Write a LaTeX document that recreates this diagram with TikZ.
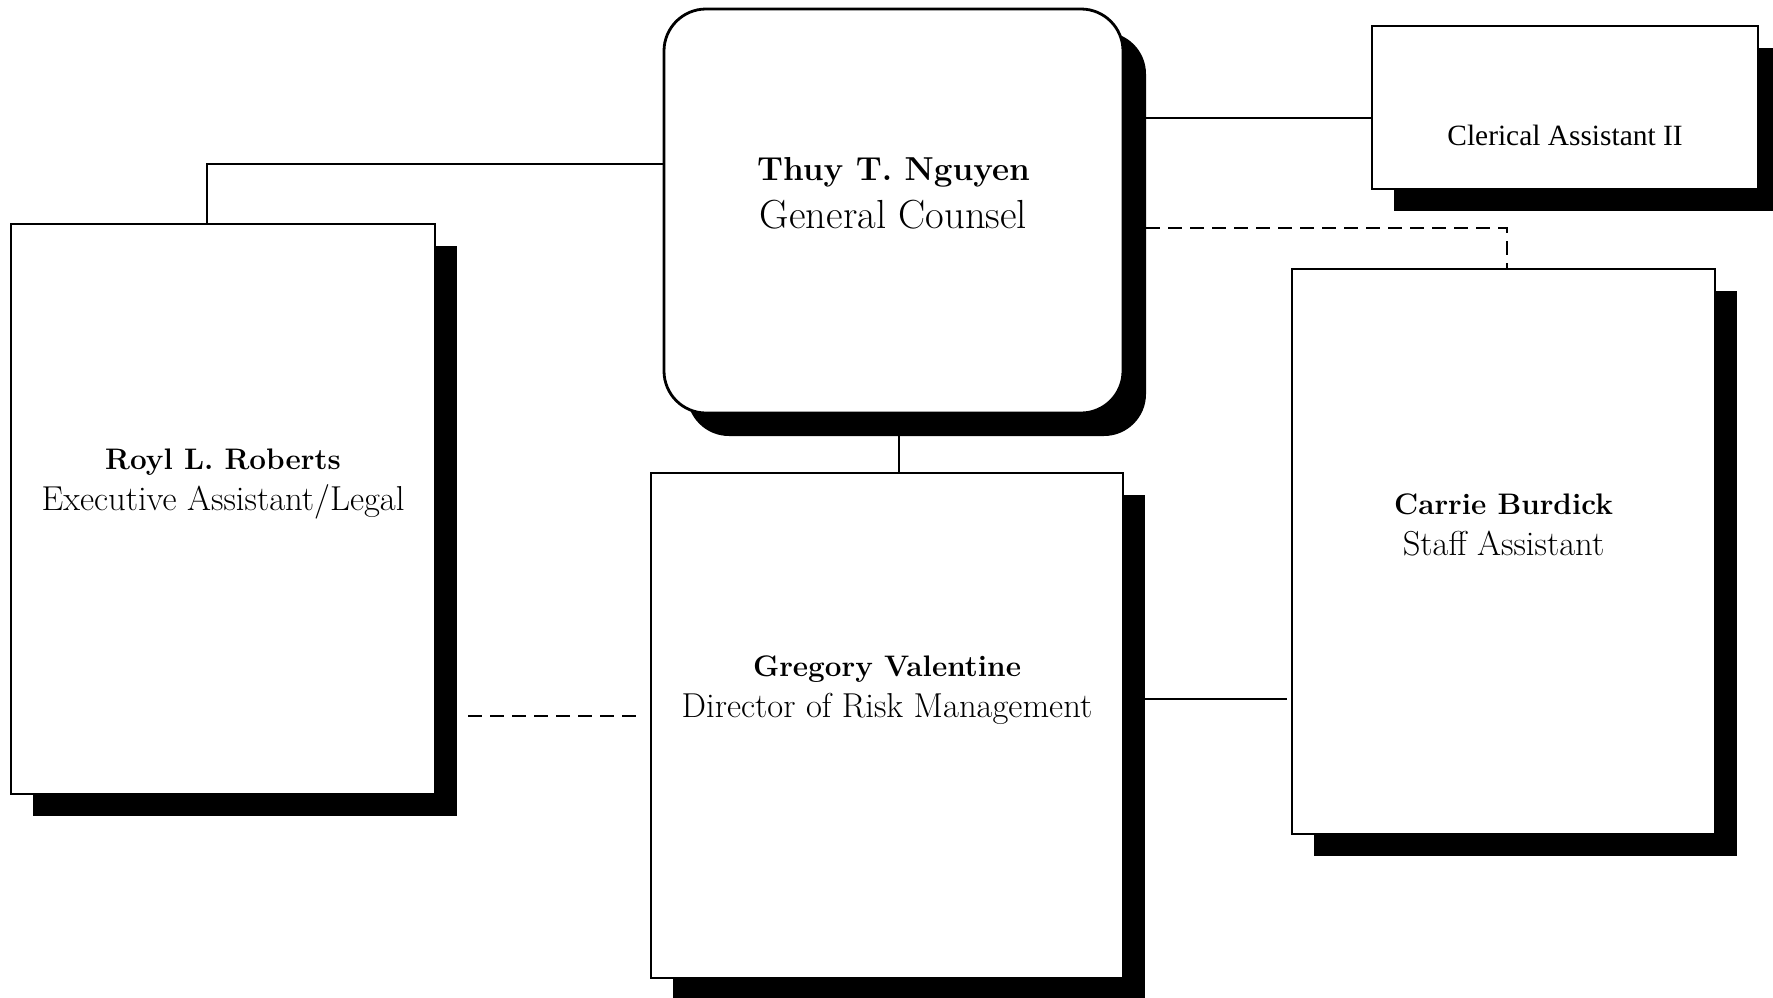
\documentclass[tikz,border=0pt]{standalone}
\usepackage{fontspec}
\newfontfamily\timesf{Liberation Serif}
\usetikzlibrary{shadows,calc}
\begin{document}
\begin{tikzpicture}[x=0.5pt,y=-0.5pt,
  box/.style={draw=black, line width=1pt, fill=white, inner sep=0pt,
    drop shadow={shadow xshift=11pt, shadow yshift=-11pt, fill=black, opacity=1}},
  bigbox/.style={draw=black, line width=1.4pt, fill=white, inner sep=0pt, rounded corners=21pt,
    drop shadow={shadow xshift=11.5pt, shadow yshift=-11.5pt, fill=black, opacity=1}},
  conn/.style={draw=black, line width=0.75pt},
  dline/.style={draw=black, line width=0.75pt, dash pattern=on 7pt off 4pt},
  lbl/.style={align=center, inner sep=0pt, font=\fontsize{17.3}{20.5}\selectfont},
]
\useasboundingbox (0,0) rectangle (1773,997);
% boxes
\node[box, minimum width=212pt, minimum height=285pt] (royl) at (223,509) {};
\node[bigbox, minimum width=229.5pt, minimum height=202pt] (gc) at (893.5,211) {};
\node[box, minimum width=193pt, minimum height=81.5pt] (clerical) at (1565,107.5) {};
\node[box, minimum width=211.5pt, minimum height=282.5pt] (carrie) at (1503.5,551.5) {};
\node[box, minimum width=236pt, minimum height=252.5pt] (gregory) at (887,725.5) {};
% texts
\node[lbl] (roylt) at (223,484) {{\bfseries\fontsize{14.85}{20.5}\selectfont Royl L. Roberts}\\Executive Assistant/Legal};
\node[lbl, font=\fontsize{20.3}{24}\selectfont] (gct) at (893.5,193) {{\bfseries\fontsize{16.6}{24}\selectfont Thuy T. Nguyen}\\General Counsel};
\node[lbl, font=\timesf\fontsize{14.7}{18}\selectfont] (clericalt) at (1565,135) {Clerical Assistant II};
\node[lbl] (carriet) at (1503.5,525) {{\bfseries\fontsize{14.85}{20.5}\selectfont Carrie Burdick}\\Staff Assistant};
\node[lbl] (gregoryt) at (887,690) {{\bfseries\fontsize{14.85}{20.5}\selectfont Gregory Valentine}\\Director of Risk Management};
% connectors
\draw[conn] (gc.west |- 0,164) -| (royl.north -| 207,0);
\draw[conn] (gc.east |- 0,118) -- (clerical.west |- 0,118);
\draw[dline] (gc.east |- 0,228) -| (carrie.north -| 1507,0);
\draw[conn] (gc.south -| 899,0) -- (gregory.north -| 899,0);
\draw[conn] (gregory.east |- 0,699) -- ($(carrie.west |- 0,699)+(-4,0)$);
\draw[dline] ($(royl.east |- 0,716)+(32,0)$) -- ($(gregory.west |- 0,716)+(-9,0)$);
\end{tikzpicture}
\end{document}
